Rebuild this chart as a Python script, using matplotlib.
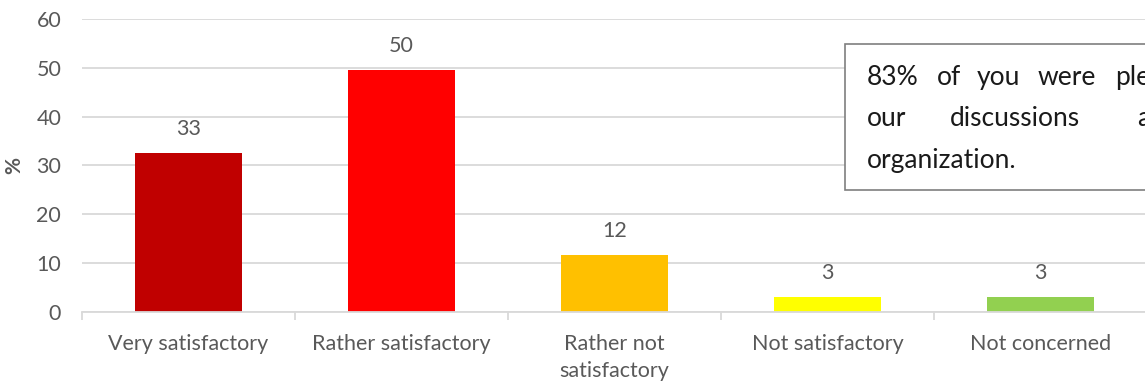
import matplotlib.pyplot as plt
from matplotlib.patches import Rectangle

# -------------------------
# DATA
# -------------------------
categories = ["Very satisfactory", "Rather satisfactory", "Rather not\nsatisfactory",
              "Not satisfactory", "Not concerned"]
values = [32.6, 49.6, 11.6, 3.1, 3.1]
value_labels = ["33", "50", "12", "3", "3"]
colors = ["#C00000", "#FF0000", "#FFC000", "#FFFF00", "#92D050"]
y_ticks = [0, 10, 20, 30, 40, 50, 60]

# note box words (justified text, cut at the right edge)
note_lines = [
    ["83%", "of", "you", "were", "pleased", "with"],
    ["our", "discussions", "and"],
    ["organization."],
]

TEXT = "#595959"
GRID = "#D9D9D9"
W, H = 1145, 383

plt.rcParams["font.family"] = ["Lato", "DejaVu Sans"]

fig = plt.figure(figsize=(W / 100, H / 100), dpi=100)
ax = fig.add_axes([82 / W, 1 - 312 / H, 1065 / W, 293 / H])

x = range(len(categories))
bars = ax.bar(x, values, width=0.5, color=colors, zorder=2)
ax.bar_label(bars, labels=value_labels, padding=10, fontsize=15.5, color=TEXT)

ax.set_xlim(-0.5, len(categories) - 0.5)
ax.set_ylim(0, 60)
ax.set_yticks(y_ticks)
ax.yaxis.grid(True, color=GRID, linewidth=1.3, zorder=0)
ax.tick_params(axis="y", length=0, labelsize=15.5, labelcolor=TEXT, pad=15)

# category labels centred, tick marks on boundaries
ax.set_xticks(list(x))
ax.set_xticklabels(categories, fontsize=15.5, color=TEXT, linespacing=1.45, va="top")
ax.tick_params(axis="x", length=0, pad=16)
ax.set_xticks([i - 0.5 for i in range(len(categories) + 1)], minor=True)
ax.tick_params(axis="x", which="minor", length=6, color=GRID, width=1.3)

for side in ["top", "right", "left"]:
    ax.spines[side].set_visible(False)
ax.spines["bottom"].set_color(GRID)
ax.spines["bottom"].set_linewidth(1.3)

ax.set_ylabel("%", fontsize=15, fontweight="bold", color=TEXT, labelpad=9)

# note box
box = Rectangle((845 / W, 1 - 190 / H), 400 / W, 146 / H, transform=fig.transFigure,
                facecolor="white", edgecolor="#7F7F7F", linewidth=1.2, zorder=5)
fig.patches.append(box)

line_x = [
    [867, 937, 977, 1038, 1115, 1260],
    [867, 950, 1137],
    [867],
]
line_y = [85, 126, 168]
for words, xs, yy in zip(note_lines, line_x, line_y):
    for word, xx in zip(words, xs):
        fig.text(xx / W, 1 - yy / H, word, fontsize=19, color="#1a1a1a",
                 va="baseline", ha="left", zorder=6)

fig.savefig("out.png", dpi=100)
